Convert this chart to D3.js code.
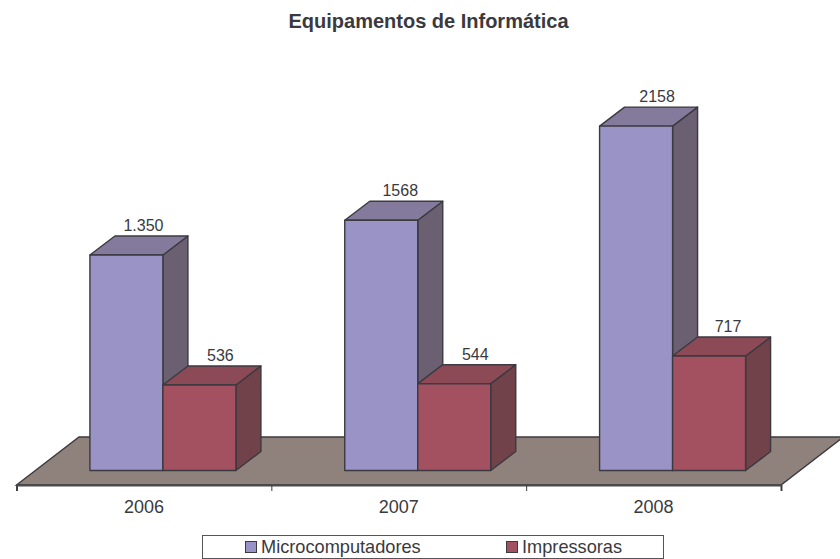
<!DOCTYPE html>
<html>
<head>
<meta charset="utf-8">
<script src="https://cdn.jsdelivr.net/npm/d3@7"></script>
<style>
  html, body { margin: 0; padding: 0; background: #fff; }
  svg { display: block; }
  text { font-family: "Liberation Sans", Arial, sans-serif; fill: #3a3a3e; }
</style>
</head>
<body>
<div id="chart"></div>
<script>
const years = ['2006', '2007', '2008'];
const seriesNames = ['Microcomputadores', 'Impressoras'];
const micro = [1350, 1568, 2158];
const impressoras = [536, 544, 717];
const microLabels = ['1.350', '1568', '2158'];
const impressorasLabels = ['536', '544', '717'];

const W = 840;
const H = 559;
const strokeColor = '#3b3a40';
const textColor = '#3a3a3e';

// front plane of the bars, and the 3D offset of the bars and the floor
const baseY = 470.5;
const axisY = 485;
const barDepth = { x: 25, y: 19 };
const floorDepth = { x: 62.5, y: 48 };

// a few value labels sit slightly left of the others in the original
const labelNudge = { '1.350': 4, '1568': 2, '717': 2 };

const colors = [
  { front: '#9a94c6', top: '#847a9c', side: '#6b5f72' },
  { front: '#a35060', top: '#8b4a56', side: '#714249' }
];

const series = [
  { name: seriesNames[0], values: micro, labels: microLabels, color: colors[0] },
  { name: seriesNames[1], values: impressoras, labels: impressorasLabels, color: colors[1] }
];

const svg = d3.select('#chart').append('svg')
  .attr('width', W)
  .attr('height', H);

// Scales
const scaleX = d3.scaleBand()
  .domain(years)
  .range([16.5, 781]);

const scaleSeries = d3.scaleBand()
  .domain(seriesNames)
  .range([0, 146]);

const scaleY = d3.scaleLinear()
  .domain([0, 2500])
  .range([baseY, baseY - 399]);

// bars sit a bit right of the band centre because of the perspective
const barOffset = (scaleX.bandwidth() - scaleSeries.range()[1]) / 2 + 19;

// Title
svg.append('text')
  .attr('x', 428.5)
  .attr('y', 28)
  .attr('text-anchor', 'middle')
  .attr('font-size', 20)
  .attr('font-weight', 'bold')
  .text('Equipamentos de Informática');

// Floor
const [x0, x1] = scaleX.range();
svg.append('path')
  .attr('fill', '#8f817b')
  .attr('stroke', strokeColor)
  .attr('stroke-width', 1.4)
  .attr('d', `M${x0},${axisY}L${x0 + floorDepth.x},${axisY - floorDepth.y}L${x1 + floorDepth.x},${axisY - floorDepth.y}L${x1},${axisY}Z`);

// Axes
const edgeScale = d3.scaleLinear().domain([0, years.length]).range([x0, x1]);
const edgeAxis = d3.axisBottom(edgeScale)
  .tickValues(d3.range(years.length + 1))
  .tickSize(6)
  .tickFormat('');

svg.append('g')
  .attr('transform', `translate(0, ${axisY})`)
  .call(edgeAxis)
  .call(g => g.selectAll('line').attr('stroke', strokeColor))
  .call(g => g.select('.domain').attr('stroke', '#4a494e').attr('stroke-width', 2));

const labelAxis = d3.axisBottom(scaleX).tickSize(0).tickPadding(15);
svg.append('g')
  .attr('transform', `translate(0, ${axisY})`)
  .call(labelAxis)
  .call(g => g.select('.domain').remove())
  .call(g => g.selectAll('text')
    .attr('font-size', 18)
    .attr('font-family', '"Liberation Sans", Arial, sans-serif')
    .attr('fill', textColor));

// Bars
years.forEach((year, i) => {
  const group = svg.append('g').attr('class', 'year');

  series.forEach(s => {
    const x = scaleX(year) + barOffset + scaleSeries(s.name);
    const w = scaleSeries.bandwidth();
    const y = scaleY(s.values[i]);
    const dx = barDepth.x;
    const dy = barDepth.y;

    const bar = group.append('g')
      .attr('stroke', strokeColor)
      .attr('stroke-width', 1.4)
      .attr('stroke-linejoin', 'round');

    bar.append('path')
      .attr('fill', s.color.side)
      .attr('d', `M${x + w},${y}L${x + w + dx},${y - dy}L${x + w + dx},${baseY - dy}L${x + w},${baseY}Z`);

    bar.append('path')
      .attr('fill', s.color.top)
      .attr('d', `M${x},${y}L${x + dx},${y - dy}L${x + w + dx},${y - dy}L${x + w},${y}Z`);

    bar.append('rect')
      .attr('x', x)
      .attr('y', y)
      .attr('width', w)
      .attr('height', baseY - y)
      .attr('fill', s.color.front);

    const nudge = labelNudge[s.labels[i]] || 0;
    group.append('text')
      .attr('x', x + w / 2 + 21 - nudge)
      .attr('y', y - dy - 5)
      .attr('text-anchor', 'middle')
      .attr('font-size', 16)
      .text(s.labels[i]);
  });
});

// Legend
const legend = svg.append('g').attr('class', 'legend');

legend.append('rect')
  .attr('x', 202.5)
  .attr('y', 535.5)
  .attr('width', 461)
  .attr('height', 23)
  .attr('fill', '#fff')
  .attr('stroke', '#55545a')
  .attr('stroke-width', 1);

const legendX = d3.scalePoint()
  .domain(seriesNames)
  .range([245, 506]);

const legendItem = legend.selectAll('g.item')
  .data(series)
  .enter()
  .append('g')
  .attr('class', 'item')
  .attr('transform', d => `translate(${legendX(d.name)}, 0)`);

legendItem.append('rect')
  .attr('x', 0.5)
  .attr('y', 541.5)
  .attr('width', 11)
  .attr('height', 11)
  .attr('fill', d => d.color.front)
  .attr('stroke', strokeColor);

legendItem.append('text')
  .attr('x', 16)
  .attr('y', 553)
  .attr('font-size', 18.2)
  .text(d => d.name);
</script>
</body>
</html>
